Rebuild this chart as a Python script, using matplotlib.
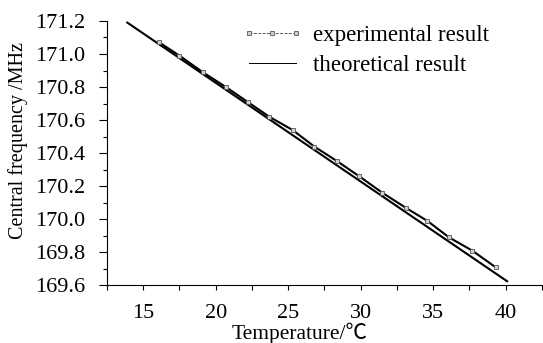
import matplotlib
matplotlib.use("Agg")
import matplotlib.pyplot as plt
from matplotlib.lines import Line2D
from matplotlib.ticker import MultipleLocator, FormatStrFormatter

plt.rcParams["font.family"] = ["Liberation Serif", "Noto Sans CJK SC", "DejaVu Sans"]

# experimental points
temp_exp = [16.1, 17.5, 19.1, 20.7, 22.2, 23.7, 25.3, 26.8,
            28.4, 29.9, 31.5, 33.1, 34.6, 36.1, 37.7, 39.3]
freq_exp = [171.07, 170.99, 170.89, 170.80, 170.71, 170.62, 170.54, 170.44,
            170.35, 170.26, 170.16, 170.07, 169.99, 169.89, 169.81, 169.71]

# theoretical straight line end points
temp_theory = [13.9, 40.1]
freq_theory = [171.19, 169.625]

labels = ["experimental result", "theoretical result"]

fig = plt.figure(figsize=(5.43, 3.43), dpi=100)
ax = fig.add_axes([0.197, 0.168, 0.801, 0.771])

ax.plot(temp_theory, freq_theory, color="black", lw=1.5, zorder=2)
ax.plot(temp_exp, freq_exp, color="black", lw=1.5, marker="s", ms=3.4,
        mfc="#d0d0d0", mec="#555555", mew=0.6, zorder=3)

ax.set_xlim(12.5, 42.5)
ax.set_ylim(169.6, 171.2)
ax.xaxis.set_major_locator(MultipleLocator(5))
ax.xaxis.set_minor_locator(MultipleLocator(2.5))
ax.yaxis.set_major_locator(MultipleLocator(0.2))
ax.yaxis.set_minor_locator(MultipleLocator(0.1))
ax.yaxis.set_major_formatter(FormatStrFormatter("%.1f"))
ax.xaxis.set_major_formatter(FormatStrFormatter("%d"))

for side in ("top", "right"):
    ax.spines[side].set_visible(False)
for side in ("left", "bottom"):
    ax.spines[side].set_linewidth(0.8)

ax.tick_params(which="both", direction="out", width=0.8, labelsize=16)
ax.tick_params(axis="y", which="major", length=5.8, pad=10)
ax.tick_params(axis="y", which="minor", length=3)
ax.tick_params(axis="x", which="both", length=3.3, pad=10)

ax.set_xlabel("Temperature/\u2103", fontsize=15.5)
ax.xaxis.set_label_coords(0.443, -0.14)
ax.set_ylabel("Central frequency /MHz", fontsize=14.5)
ax.yaxis.set_label_coords(-0.182, 0.549)

handles = [
    Line2D([], [], color="#555555", lw=0.7, ls=(0, (3, 1.5)), marker="s", ms=3.2,
           mfc="#d0d0d0", mec="#555555", mew=0.6),
    Line2D([], [], color="black", lw=0.7),
]
ax.legend(handles, labels, loc="upper left", bbox_to_anchor=(0.4457, 0.927),
          bbox_transform=fig.transFigure, frameon=False, fontsize=16.5,
          numpoints=3, handlelength=2.65, handletextpad=0.45, labelspacing=0.37,
          borderpad=0, borderaxespad=0)

fig.savefig("out.png", dpi=100)
